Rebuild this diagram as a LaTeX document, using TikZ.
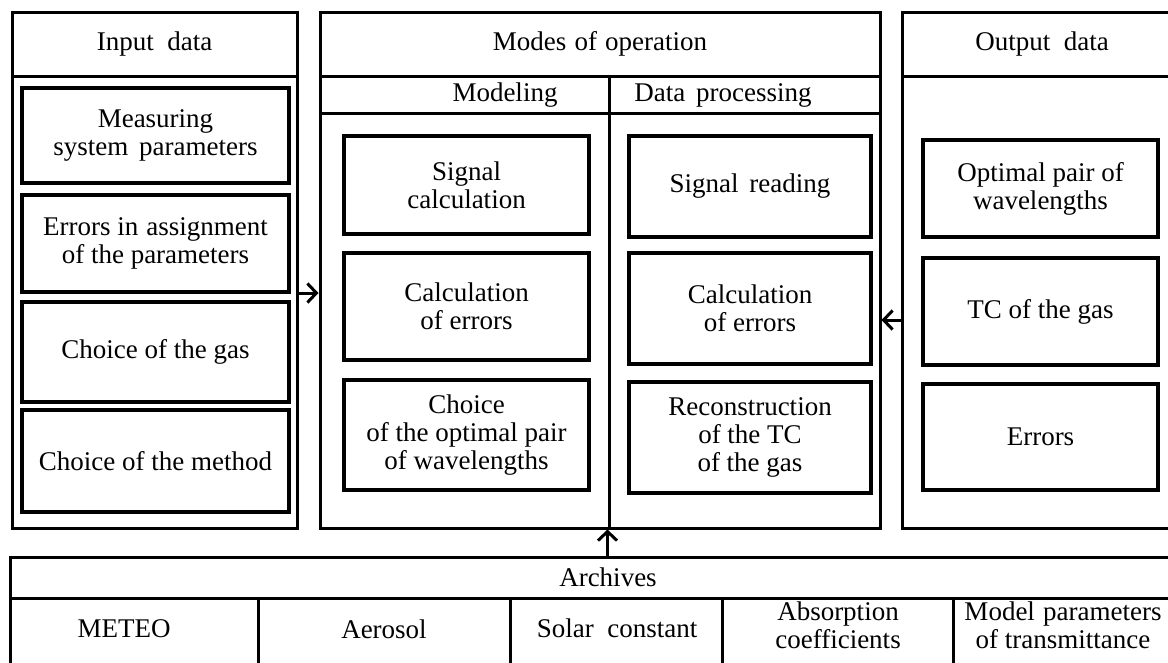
\documentclass[tikz,border=0pt]{standalone}
\usepackage{fontspec}
\setmainfont{Liberation Serif}
\usetikzlibrary{arrows.meta}
\newcommand{\dfont}{\fontsize{27}{28}\selectfont}
\tikzset{
  frame/.style={draw, line width=3pt, inner sep=0pt, align=center, font=\dfont},
  box/.style={frame, line width=4pt},
  txt/.style={align=center, inner sep=0pt, font=\dfont},
  span/.style n args={4}{at={({(#1+#3)/2},{(#2+#4)/2})}, minimum width={#3-#1}, minimum height={#4-#2}},
  arrow/.style={-{Straight Barb[length=9pt,width=19pt]}, line width=3pt}
}

\begin{document}
\begin{tikzpicture}[x=1pt, y=-1pt]
  \useasboundingbox (0,0) rectangle (1168,662);
  % input data
  \node[frame, span={12}{12}{297}{76}] (inhead) {Input\hspace{0.5em}data};
  \node[frame, span={12}{76}{297}{528}] (inbody) {};
  \node[box, span={22}{88}{289}{183}] (msp) {Measuring\\system\hspace{0.4em}parameters};
  \node[box, span={22}{195}{289}{292}] (err) {Errors in\hspace{0.3em}assignment\\of the parameters};
  \node[box, span={22}{302}{289}{402}] (gas) {Choice of the gas};
  \node[box, span={22}{410}{289}{512}] (meth) {Choice of the method};
  % modes of operation
  \node[frame, span={320}{12}{880}{76}] (modes) {Modes\hspace{0.3em}of\hspace{0.3em}operation};
  \node[frame, span={320}{76}{609}{113}] (modhead) {};
  \node[frame, span={609}{76}{880}{113}] (datahead) {};
  \node[txt] (modtxt) at (505,95) {Modeling};
  \node[txt] (datatxt) at (723,95) {Data\hspace{0.4em}processing};
  \node[frame, span={320}{113}{609}{528}] (modbody) {};
  \node[frame, span={609}{113}{880}{528}] (databody) {};
  \node[box, span={344}{136}{589}{234}] (sigc) {Signal\\calculation};
  \node[box, span={344}{253}{589}{360}] (errc) {Calculation\\of errors};
  \node[box, span={344}{380}{589}{490}] (pairc) {Choice\\of the optimal pair\\of wavelengths};
  \node[box, span={629}{136}{871}{237}] (sigr) {Signal\hspace{0.4em}reading};
  \node[box, span={629}{253}{871}{364}] (errd) {Calculation\\of errors};
  \node[box, span={629}{382}{871}{493}] (rec) {Reconstruction\\of the TC\\of the gas};
  % output data
  \node[frame, span={902}{12}{1182}{76}] (outhead) {Output\hspace{0.5em}data};
  \node[frame, span={902}{76}{1182}{528}] (outbody) {};
  \node[box, span={923}{140}{1158}{237}] (pair) {Optimal pair of\\wavelengths};
  \node[box, span={923}{258}{1158}{365}] (tc) {TC of the gas};
  \node[box, span={923}{384}{1158}{490}] (errs) {Errors};
  % archives
  \node[frame, span={10}{557}{1206}{598}] (archead) {Archives};
  \node[frame, span={10}{598}{258}{700}] (meteo) {};
  \node[frame, span={258}{598}{510}{700}] (aero) {};
  \node[frame, span={510}{598}{722}{700}] (solar) {};
  \node[frame, span={722}{598}{953}{700}] (absorb) {};
  \node[frame, span={953}{598}{1206}{700}] (model) {};
  \node[txt] (meteotxt) at (124,629) {METEO};
  \node[txt] (aerotxt) at (384,629) {Aerosol};
  \node[txt] (solartxt) at (617,628) {Solar\hspace{0.5em}constant};
  \node[txt] (absorbtxt) at (838,625) {Absorption\\coefficients};
  \node[txt] (modeltxt) at (1063,625) {Model\hspace{0.3em}parameters\\of transmittance};
  % arrows
  \draw[arrow] ([yshift=9pt]inbody.east) -- ([yshift=9pt]inbody.east -| modbody.west);
  \draw[arrow] ([yshift=-18pt]outbody.west) -- ([yshift=-18pt]outbody.west -| databody.east);
  \draw[arrow] (archead.north -| databody.south west) -- (databody.south west);
\end{tikzpicture}
\end{document}
